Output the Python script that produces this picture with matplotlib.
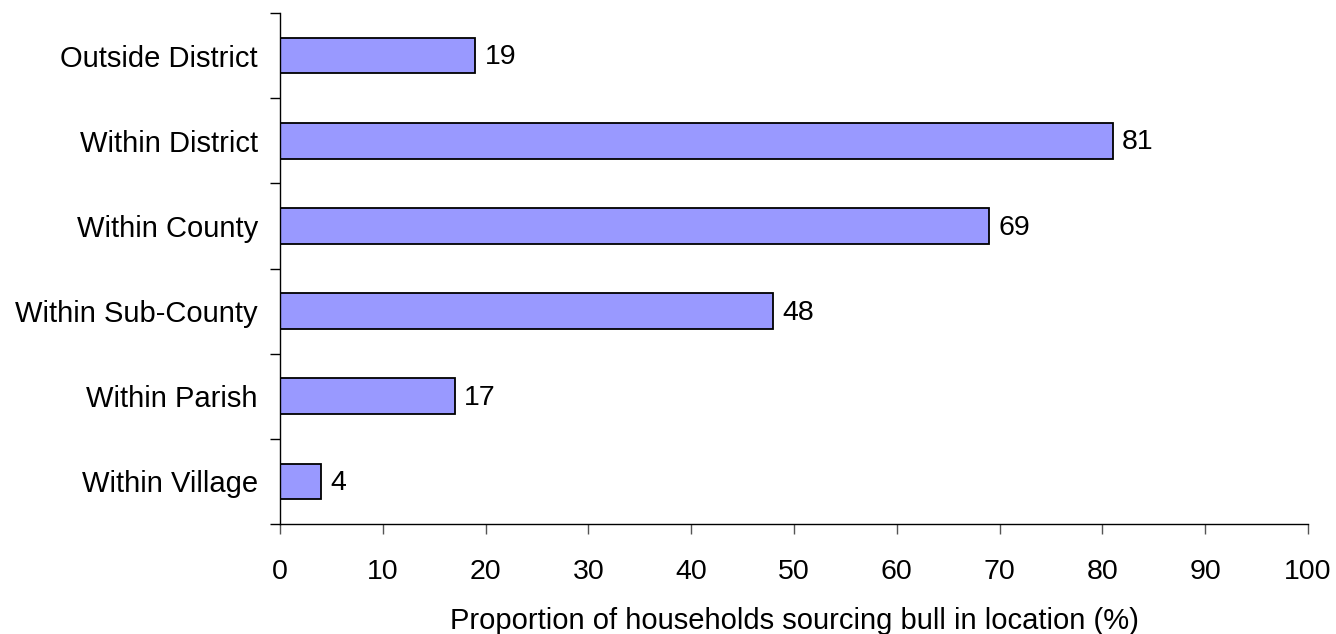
import matplotlib
matplotlib.use("Agg")
import matplotlib.pyplot as plt

categories = ["Within Village", "Within Parish", "Within Sub-County",
              "Within County", "Within District", "Outside District"]
values = [4, 17, 48, 69, 81, 19]
xticks = [0, 10, 20, 30, 40, 50, 60, 70, 80, 90, 100]

plt.rcParams['font.family'] = ['Liberation Sans', 'DejaVu Sans']

fig = plt.figure(figsize=(13.36, 6.34), dpi=100)
ax = fig.add_axes([280/1336, 1-524/634, (1308-280)/1336, (524-13)/634])

pos = list(range(len(categories)))
ax.barh(pos, values, height=0.42, color='#9999FF', edgecolor='black', linewidth=1.3)
for p, v in zip(pos, values):
    ax.text(v + 0.9, p - 0.02, str(v), va='center', ha='left', fontsize=20.5)

ax.set_xlim(0, 100)
ax.set_ylim(-0.5, len(categories) - 0.5)
ax.set_xticks(xticks)
ax.set_xticklabels([str(t) for t in xticks], fontsize=20.5)
ax.set_yticks(pos)
ax.set_yticklabels(categories, fontsize=21)
ax.set_yticks([i - 0.5 for i in range(len(categories) + 1)], minor=True)
ax.tick_params(axis='y', which='major', length=0, pad=16)
ax.tick_params(axis='y', which='minor', length=7.2, width=1, direction='out')
ax.tick_params(axis='x', which='major', length=7.2, width=1, direction='out', pad=18,
               color='#555555')
ax.spines['top'].set_visible(False)
ax.spines['right'].set_visible(False)
ax.spines['left'].set_linewidth(1)
ax.spines['bottom'].set_linewidth(1)
ax.set_xlabel("Proportion of households sourcing bull in location (%)", fontsize=21, labelpad=16)

fig.savefig("out.png", dpi=100)
